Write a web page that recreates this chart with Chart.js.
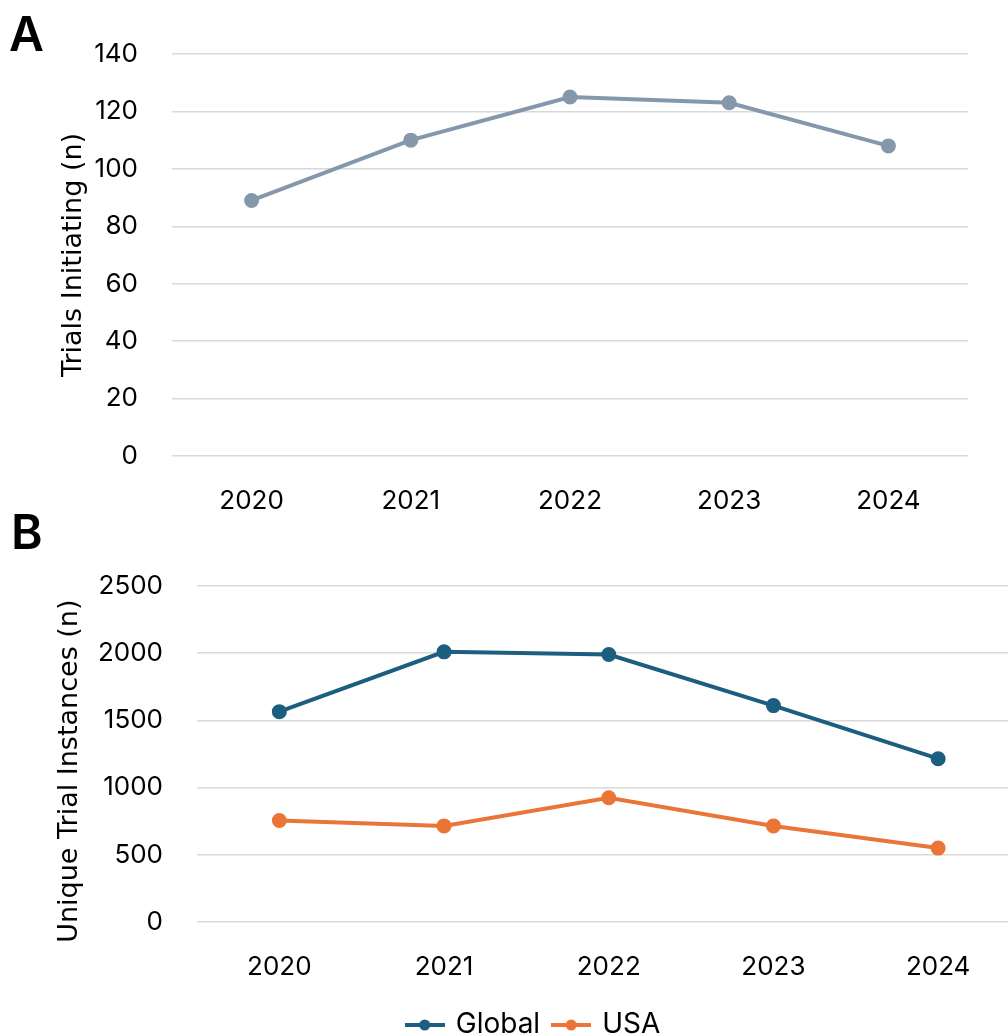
<!DOCTYPE html>
<html>
<head>
<meta charset="utf-8">
<script src="https://cdn.jsdelivr.net/npm/chart.js@4.4.1/dist/chart.umd.min.js"></script>
<style>
  html, body { margin: 0; padding: 0; background: #fff; width: 1008px; height: 1036px; overflow: hidden; }
  body { position: relative; font-family: Inter, "Open Sans", sans-serif; }
  .panel-label { position: absolute; font-family: Inter, sans-serif; font-weight: 600; font-size: 48px; line-height: 1; color: #000; }
  #chartA { position: absolute; left: 0; top: 0; }
  #chartB { position: absolute; left: 0; top: 520px; }
</style>
</head>
<body>
<canvas id="chartA" width="1008" height="530"></canvas>
<canvas id="chartB" width="1030" height="529"></canvas>
<div class="panel-label" style="left:9px;top:10px;">A</div>
<div class="panel-label" style="left:11px;top:508px;">B</div>
<script>
// data
const years = ["2020", "2021", "2022", "2023", "2024"];
const trialsInitiating = [89, 110, 125, 123, 108];
const globalInstances = [1565, 2010, 1990, 1610, 1215];
const usaInstances = [755, 715, 925, 715, 550];
const ticksA = [0, 20, 40, 60, 80, 100, 120, 140];
const ticksB = [0, 500, 1000, 1500, 2000, 2500];

const FONT = "Inter";
const TITLE_FONT = "DejaVu Sans";
const gridColor = "#d9d9d9";
const textColor = "#000000";

Chart.defaults.font.family = FONT;
Chart.defaults.color = textColor;

// legend marker: line with dot, like the spreadsheet legend
function legendMarker(color) {
  const c = document.createElement("canvas");
  c.width = 40;
  c.height = 14;
  const g = c.getContext("2d");
  g.strokeStyle = color;
  g.lineWidth = 4;
  g.beginPath();
  g.moveTo(0, 7);
  g.lineTo(40, 7);
  g.stroke();
  g.fillStyle = color;
  g.beginPath();
  g.arc(20, 7, 5.5, 0, Math.PI * 2);
  g.fill();
  return c;
}

function yScale(min, max, tickValues, title, axisWidth, titlePad) {
  return {
    min: min,
    max: max,
    afterBuildTicks: (axis) => {
      axis.ticks = tickValues.map((v) => ({ value: v }));
    },
    afterFit: (axis) => {
      axis.width = axisWidth;
    },
    grid: { color: gridColor, lineWidth: 1.5, drawTicks: false },
    border: { display: false },
    ticks: {
      padding: 34,
      font: { size: 26 },
      color: textColor,
      callback: (v) => String(v),
    },
    title: {
      display: true,
      text: title,
      font: { size: 27, family: TITLE_FONT },
      color: textColor,
      padding: { top: titlePad, bottom: 0 },
    },
  };
}

function xScale(height) {
  return {
    offset: true,
    afterFit: (axis) => {
      axis.height = height;
    },
    grid: { display: false, drawTicks: false },
    border: { display: false },
    ticks: { padding: 30, font: { size: 26 }, color: textColor },
  };
}

// chart A
new Chart(document.getElementById("chartA"), {
  type: "line",
  data: {
    labels: years,
    datasets: [
      {
        label: "Trials Initiating",
        data: trialsInitiating,
        borderColor: "#8598ab",
        backgroundColor: "#8598ab",
        borderWidth: 4,
        pointRadius: 5.5,
        pointHoverRadius: 5.5,
        tension: 0,
      },
    ],
  },
  options: {
    responsive: false,
    devicePixelRatio: 1,
    animation: false,
    layout: { padding: { top: 54, right: 40, left: 42, bottom: 0 } },
    plugins: { legend: { display: false }, tooltip: { enabled: false } },
    scales: {
      x: xScale(74),
      y: yScale(0, 140, ticksA, "Trials Initiating (n)", 130, 16),
    },
  },
});

// chart B
const markers = [legendMarker("#1b5e80"), legendMarker("#ea7536")];
new Chart(document.getElementById("chartB"), {
  type: "line",
  data: {
    labels: years,
    datasets: [
      {
        label: "Global",
        data: globalInstances,
        borderColor: "#1b5e80",
        backgroundColor: "#1b5e80",
        borderWidth: 4,
        pointRadius: 5.5,
        pointHoverRadius: 5.5,
        tension: 0,
      },
      {
        label: "USA",
        data: usaInstances,
        borderColor: "#ea7536",
        backgroundColor: "#ea7536",
        borderWidth: 4,
        pointRadius: 5.5,
        pointHoverRadius: 5.5,
        tension: 0,
      },
    ],
  },
  options: {
    responsive: false,
    devicePixelRatio: 1,
    animation: false,
    layout: { padding: { top: 66, right: 0, left: 38, bottom: 0 } },
    plugins: {
      tooltip: { enabled: false },
      legend: {
        position: "bottom",
        labels: {
          usePointStyle: true,
          pointStyleWidth: 34,
          padding: 14,
          font: { size: 28 },
          color: textColor,
          generateLabels: (chart) => {
            const items = Chart.defaults.plugins.legend.labels.generateLabels(chart);
            items.forEach((it, i) => {
              it.pointStyle = markers[i];
            });
            return items;
          },
        },
      },
    },
    scales: {
      x: xScale(75),
      // trailing spaces nudge the rotated title down, as in the source figure
      y: yScale(0, 2500, ticksB, "Unique Trial Instances (n)    ", 159, 16),
    },
  },
});
</script>
</body>
</html>
